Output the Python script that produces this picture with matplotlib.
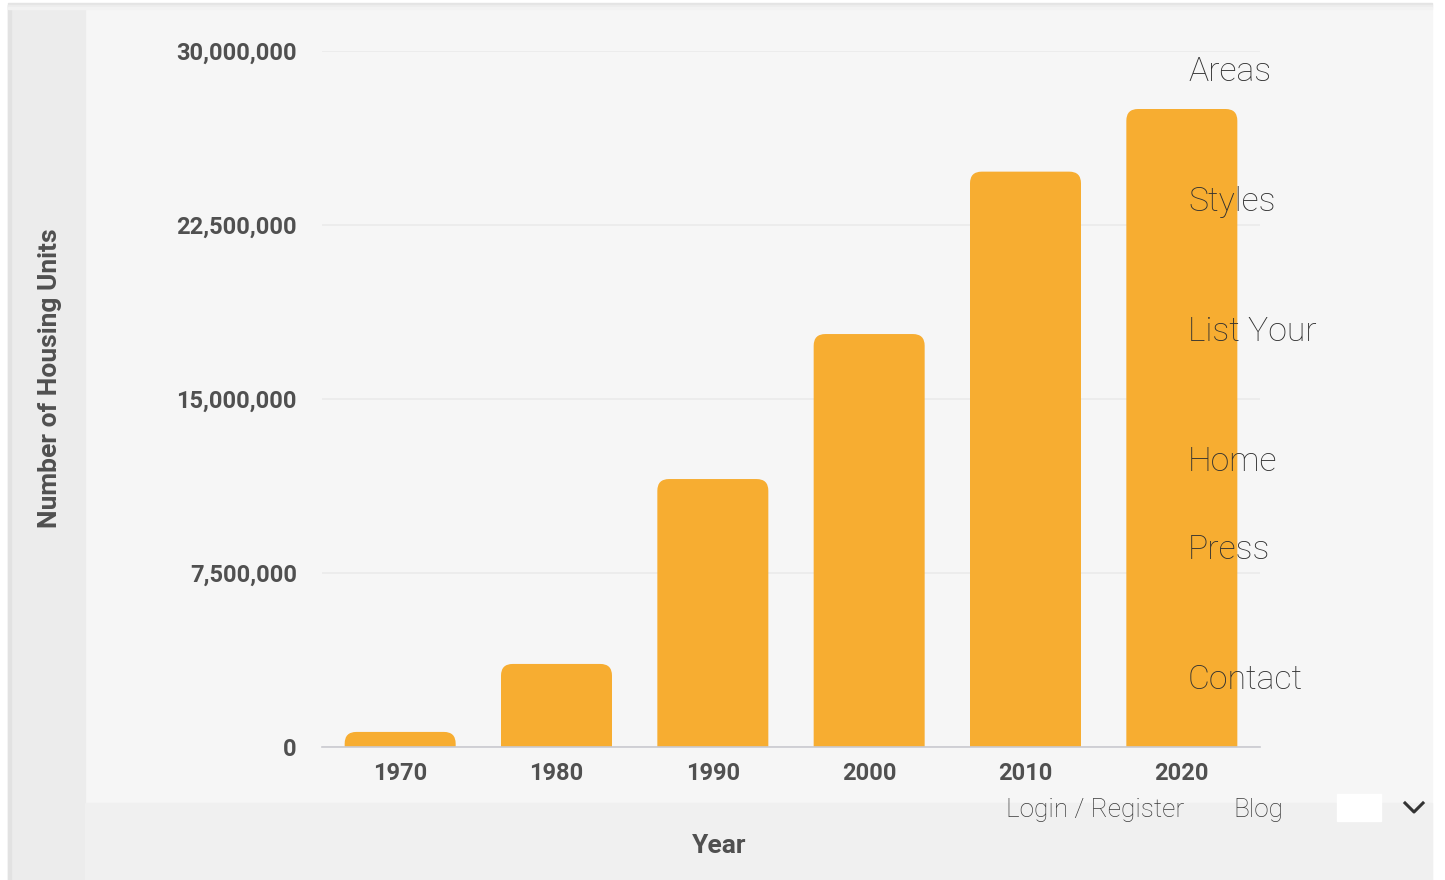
import matplotlib
matplotlib.use("Agg")
import matplotlib.pyplot as plt
from matplotlib.patches import Rectangle, FancyBboxPatch
from matplotlib.ticker import FuncFormatter

# data
years = ["1970", "1980", "1990", "2000", "2010", "2020"]
units = [650000, 3580000, 11550000, 17800000, 24800000, 27500000]
y_ticks = [0, 7500000, 15000000, 22500000, 30000000]
menu_items = ["Areas", "Styles", "List Your", "Home", "Press", "Contact"]
menu_y = [69, 199, 329, 459, 547, 677]   # pixel rows of the overlay menu

W, H = 1445, 880
BAR = "#F7AD31"
TXT = "#505050"
plt.rcParams["font.family"] = ["Roboto", "DejaVu Sans"]

fig = plt.figure(figsize=(W / 100, H / 100), dpi=100, facecolor="white")


def fx(x):
    return x / W


def fy(y):
    return 1 - y / H


def prect(x0, y0, x1, y1, color, z=-5):
    fig.patches.append(Rectangle((fx(x0), fy(y1)), fx(x1 - x0), (y1 - y0) / H,
                                 transform=fig.transFigure, color=color, zorder=z))


# page background pieces
prect(8, 5, 1432, 880, "#f6f6f6")
prect(8, 5, 85, 880, "#ececec")
prect(8, 5, 11, 880, "#e2e2e2")
prect(85, 803, 1432, 880, "#f0f0f0")
for i, c in enumerate(["#e4e4e4", "#ececec", "#f2f2f2"]):
    prect(8, 3 + i * 2, 1432, 5 + i * 2, c)

ax = fig.add_axes([fx(322), fy(747), fx(1260 - 322), (747 - 51) / H])
ax.set_zorder(2)
ax.set_facecolor("none")
ax.set_xlim(-0.5, 5.5)
ax.set_ylim(0, 30000000)

bars = ax.bar(range(len(years)), units, width=0.71, color=BAR)
# round the top corners
aspect = 156.0 / 23.2 * 1e6
r = 0.075
for b in bars:
    b.set_visible(False)
    ext = r * aspect
    p = FancyBboxPatch((b.get_x(), -ext), b.get_width(), b.get_height() + ext,
                       boxstyle=f"round,pad=0,rounding_size={r}",
                       mutation_aspect=aspect, facecolor=BAR, edgecolor="none",
                       zorder=2, clip_on=True)
    ax.add_patch(p)

ax.set_yticks(y_ticks)
ax.yaxis.set_major_formatter(FuncFormatter(lambda v, p: f"{int(v):,}"))
ax.set_xticks(range(len(years)))
ax.set_xticklabels(years)
ax.tick_params(axis="both", length=0, colors=TXT, labelsize=17)
ax.tick_params(axis="y", pad=18)
ax.tick_params(axis="x", pad=11)
for lbl in ax.get_xticklabels() + ax.get_yticklabels():
    lbl.set_fontweight("bold")
ax.grid(axis="y", color="#ebebeb", linewidth=1.2, zorder=0)
ax.set_axisbelow(True)
for s in ["top", "right", "left"]:
    ax.spines[s].set_visible(False)
ax.spines["bottom"].set_color("#cacad0")
ax.spines["bottom"].set_linewidth(1.2)
ax.spines["bottom"].set_zorder(3)

fig.text(fx(719), fy(846), "Year", ha="center", va="center", fontsize=19,
         fontweight="bold", color=TXT)
fig.text(fx(50), fy(378), "Number of Housing Units", ha="center", va="center",
         rotation=90, fontsize=19, fontweight="bold", color=TXT)

# overlay menu from the page
for name, yy in zip(menu_items, menu_y):
    fig.text(fx(1188), fy(yy + 3), name, ha="left", va="center", fontsize=24.3,
             fontweight="light", color="#303030", zorder=5)
fig.text(fx(1006), fy(810), "Login / Register", ha="left", va="center",
         fontsize=18.9, fontweight="light", color="#3a3a3a", zorder=5)
fig.text(fx(1233), fy(810), "Blog", ha="left", va="center",
         fontsize=18.9, fontweight="light", color="#3a3a3a", zorder=5)
prect(1337, 794, 1381, 821, "white", z=5)
fig.lines.append(plt.Line2D([fx(1405), fx(1414), fx(1423)], [fy(803), fy(812), fy(803)],
                            transform=fig.transFigure, color="#333333", linewidth=2.2,
                            zorder=5))

fig.savefig("out.png", dpi=100, facecolor="white")
